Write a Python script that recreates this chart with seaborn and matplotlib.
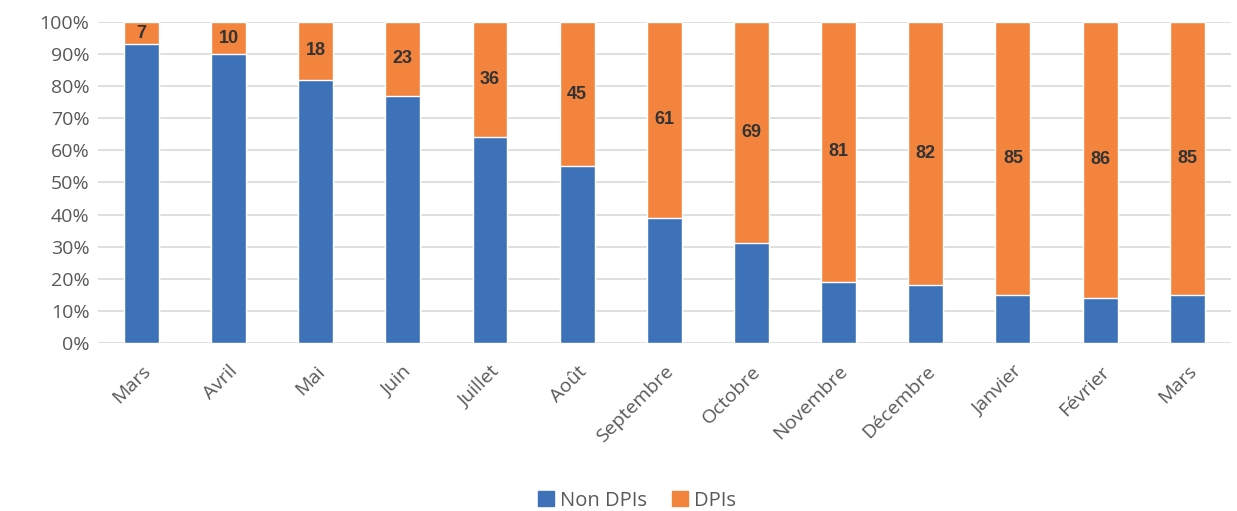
import pandas as pd
import matplotlib.pyplot as plt
import seaborn as sns
from matplotlib.patches import Patch

# Données
mois = ['Mars', 'Avril', 'Mai', 'Juin', 'Juillet', 'Août', 'Septembre',
        'Octobre', 'Novembre', 'Décembre', 'Janvier', 'Février', 'Mars ']
dpis = [7, 10, 18, 23, 36, 45, 61, 69, 81, 82, 85, 86, 85]
non_dpis = [100 - v for v in dpis]

bleu = '#3D72B9'
orange = '#F2843E'
gris = '#595959'

df = pd.DataFrame({'mois': mois, 'Non DPIs': non_dpis, 'DPIs': dpis})
df['total'] = df['Non DPIs'] + df['DPIs']

sns.set_style('white')
plt.rcParams['font.family'] = ['Open Sans', 'DejaVu Sans']

fig, ax = plt.subplots(figsize=(12.37, 5.11), dpi=100)
fig.subplots_adjust(left=0.079, right=0.995, top=0.957, bottom=0.329)

sns.barplot(data=df, x='mois', y='total', color=orange, width=0.4,
            saturation=1, ax=ax, zorder=3)
sns.barplot(data=df, x='mois', y='Non DPIs', color=bleu, width=0.4,
            saturation=1, ax=ax, zorder=3)

# Étiquettes des DPIs au milieu du segment orange
for i, (b, o) in enumerate(zip(non_dpis, dpis)):
    ax.text(i, b + o / 2, str(o), ha='center', va='center', fontsize=13,
            fontweight='bold', color='#333333', zorder=4,
            family=['Liberation Sans', 'DejaVu Sans'])

ax.set_ylim(0, 100)
ax.set_xlim(-0.5, len(mois) - 0.5)
ax.set_yticks(range(0, 101, 10))
ax.set_yticklabels([f'{v}%' for v in range(0, 101, 10)], fontsize=14, color=gris)
ax.set_xticks(range(len(mois)))
ax.set_xticklabels([m.strip() for m in mois], rotation=45, ha='right',
                   rotation_mode='anchor', fontsize=14, color=gris)
ax.tick_params(axis='both', length=0, pad=6)
ax.tick_params(axis='x', pad=14)
ax.yaxis.grid(True, color='#D9D9D9', linewidth=1.2, zorder=0)
ax.set_axisbelow(True)
for s in ax.spines.values():
    s.set_visible(False)
ax.set_xlabel('')
ax.set_ylabel('')

handles = [Patch(color=bleu, label='Non DPIs'), Patch(color=orange, label='DPIs')]
fig.legend(handles=handles, loc='lower center', ncol=2, frameon=False,
           fontsize=14.5, bbox_to_anchor=(0.515, -0.035), handlelength=0.8,
           handleheight=0.8, handletextpad=0.3, columnspacing=1.2,
           labelcolor=gris)

plt.savefig('out.png', dpi=100)
